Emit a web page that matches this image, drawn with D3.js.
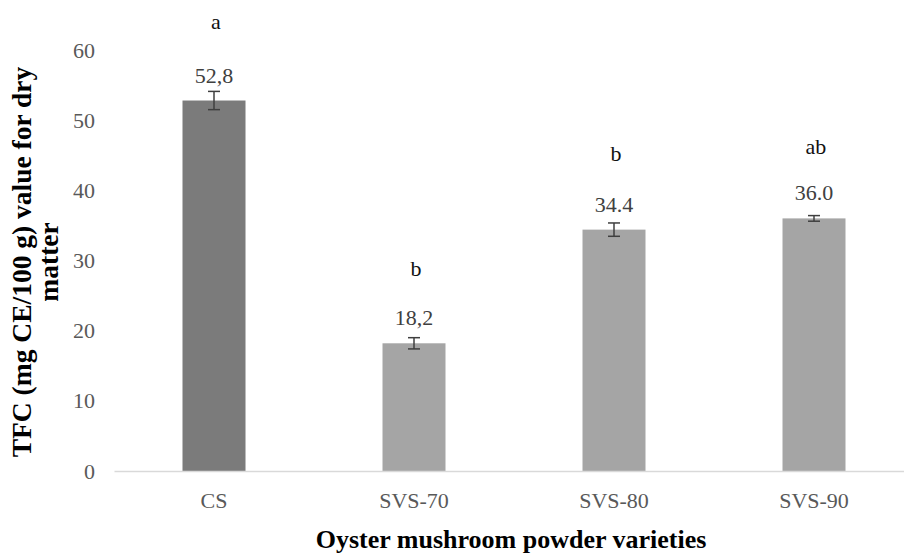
<!DOCTYPE html>
<html>
<head>
<meta charset="utf-8">
<script src="https://cdn.jsdelivr.net/npm/d3@7"></script>
<style>
body{margin:0;background:#fff;}
svg text{font-family:"Liberation Serif","Times New Roman",serif !important;}
</style>
</head>
<body>
<script>
var width = 904;
var height = 554;

var categories = ['CS','SVS-70','SVS-80','SVS-90'];
var values = [52.8,18.2,34.4,36.0];
var errors = [1.3,0.8,0.95,0.4];
var valueLabels = ['52,8','18,2','34.4','36.0'];
var letters = ['a','b','b','ab'];
var barColors = ['#7b7b7b','#a5a5a5','#a5a5a5','#a5a5a5'];
var yTicks = [0,10,20,30,40,50,60];

var svg = d3.select('body').append('svg')
	.attr('width',width)
	.attr('height',height);

var x = d3.scaleBand().domain(categories).range([114,914]).paddingInner(0.685).paddingOuter(0.3425);
var y = d3.scaleLinear().domain([0,60]).range([471,50]);

// bars
svg.append('g').selectAll('rect')
	.data(values)
	.enter()
	.append('rect')
	.attr('x',(d,i)=>x(categories[i]))
	.attr('y',(d)=>y(d))
	.attr('width',x.bandwidth())
	.attr('height',(d)=>y(0)-y(d))
	.attr('fill',(d,i)=>barColors[i]);

// error bars
var err = svg.append('g').attr('stroke','#3f3f3f').attr('stroke-width',1.5);
values.forEach(function(v,i){
	var cx = x(categories[i])+x.bandwidth()/2;
	err.append('line').attr('x1',cx).attr('x2',cx).attr('y1',y(v-errors[i])).attr('y2',y(v+errors[i]));
	err.append('line').attr('x1',cx-6).attr('x2',cx+6).attr('y1',y(v-errors[i])).attr('y2',y(v-errors[i]));
	err.append('line').attr('x1',cx-6).attr('x2',cx+6).attr('y1',y(v+errors[i])).attr('y2',y(v+errors[i]));
});

// value labels
svg.append('g').selectAll('text')
	.data(values)
	.enter()
	.append('text')
	.attr('x',(d,i)=>x(categories[i])+x.bandwidth()/2)
	.attr('y',(d)=>y(d)-18)
	.attr('text-anchor','middle')
	.attr('font-size',22)
	.attr('fill','#404040')
	.text((d,i)=>valueLabels[i]);

// significance letters
svg.append('g').selectAll('text')
	.data(values)
	.enter()
	.append('text')
	.attr('x',(d,i)=>x(categories[i])+x.bandwidth()/2+2)
	.attr('y',(d,i)=>y(d+errors[i])-62)
	.attr('text-anchor','middle')
	.attr('font-size',22)
	.attr('fill','#111')
	.text((d,i)=>letters[i]);

// axes
var xAxis = svg.append('g')
	.attr('transform','translate(0,471)')
	.call(d3.axisBottom(x).tickSize(0).tickPadding(21));
xAxis.select('.domain').attr('stroke','#d9d9d9').attr('stroke-width',1.5);
xAxis.selectAll('text').attr('font-size',22).attr('fill','#595959');

var yAxis = svg.append('g')
	.attr('transform','translate(104,0)')
	.call(d3.axisLeft(y).tickValues(yTicks).tickSize(0).tickPadding(9));
yAxis.select('.domain').remove();
yAxis.selectAll('text').attr('font-size',22).attr('fill','#595959');

// axis titles
svg.append('text')
	.attr('x',511)
	.attr('y',548)
	.attr('text-anchor','middle')
	.attr('font-size',26)
	.attr('font-weight','bold')
	.attr('fill','#000')
	.text('Oyster mushroom powder varieties');

var yt = svg.append('text')
	.attr('transform','translate(0,262) rotate(-90)')
	.attr('text-anchor','middle')
	.attr('font-size',27.5)
	.attr('font-weight','bold')
	.attr('fill','#000');
yt.append('tspan').attr('x',0).attr('y',31).text('TFC (mg CE/100 g) value for dry');
yt.append('tspan').attr('x',0).attr('y',58).text('matter');
</script>
</body>
</html>
